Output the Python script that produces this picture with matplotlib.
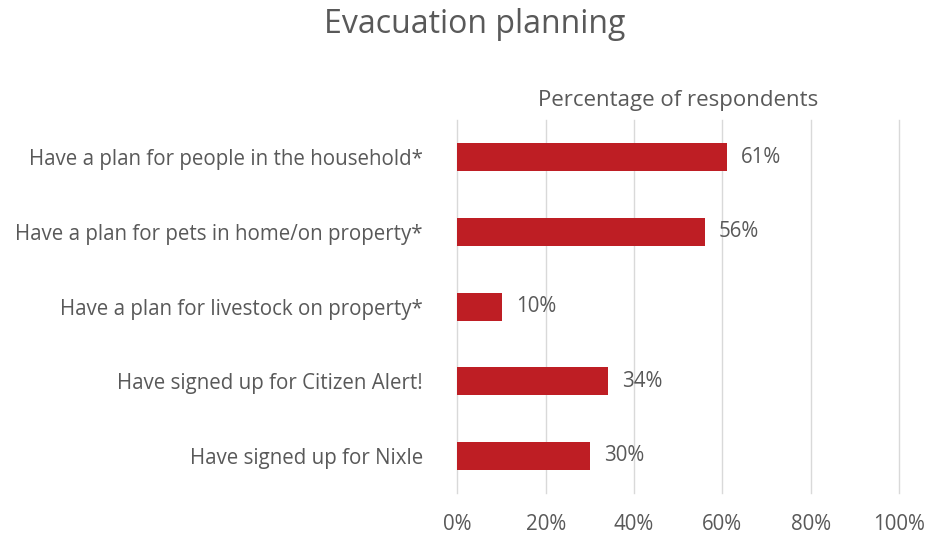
import matplotlib
matplotlib.use("Agg")
import matplotlib.pyplot as plt
from matplotlib.ticker import PercentFormatter

categories = [
    "Have a plan for people in the household*",
    "Have a plan for pets in home/on property*",
    "Have a plan for livestock on property*",
    "Have signed up for Citizen Alert!",
    "Have signed up for Nixle",
]
values = [61, 56, 10, 34, 30]
xticks = [0, 20, 40, 60, 80, 100]

plt.rcParams['font.family'] = ['Open Sans', 'DejaVu Sans']
txt = '#595959'
bar_color = '#BE1E24'

fig = plt.figure(figsize=(9.27, 5.37), dpi=100)
ax = fig.add_axes([0.4935, 0.0819, 0.9698 - 0.4935, 0.7765 - 0.0819])

y = list(range(len(categories)))
ax.barh(y, values, height=0.375, color=bar_color, zorder=3)
ax.set_ylim(len(categories) - 0.5, -0.5)
ax.set_xlim(0, 100)
ax.set_yticks(y)
ax.set_yticklabels(categories, fontsize=14.8, color=txt)
ax.set_xticks(xticks)
ax.xaxis.set_major_formatter(PercentFormatter(decimals=0))
ax.tick_params(axis='x', labelsize=14.8, labelcolor=txt, length=0, pad=15)
ax.tick_params(axis='y', length=0, pad=25)
ax.grid(axis='x', color='#D9D9D9', linewidth=1.0, zorder=0)
for gl in ax.get_xgridlines():
    gl.set_clip_on(False)
for s in ax.spines.values():
    s.set_visible(False)

for yi, v in zip(y, values):
    ax.text(v + 3.2, yi, f"{v}%", va='center', ha='left', fontsize=14.8, color=txt)

ax.text(0.5, 1.025, "Percentage of respondents", transform=ax.transAxes,
        ha='center', va='bottom', fontsize=16, color=txt)
fig.text(0.512, 0.955, "Evacuation planning", ha='center', va='center',
         fontsize=23, color=txt)

fig.savefig("out.png", dpi=100)
